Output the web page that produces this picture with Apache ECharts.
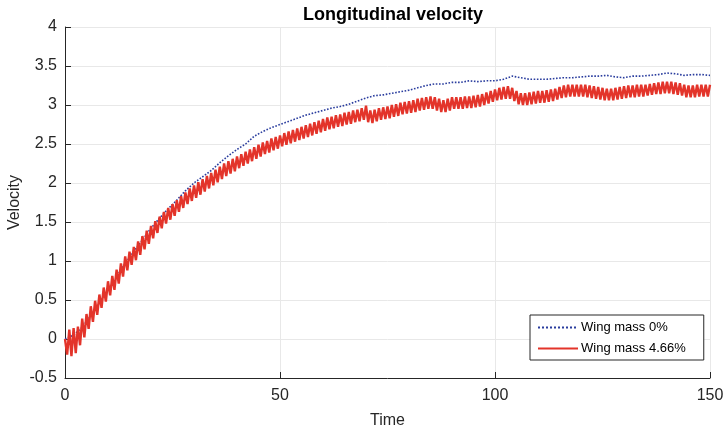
<!DOCTYPE html>
<html>
<head>
<meta charset="utf-8">
<script src="https://cdn.jsdelivr.net/npm/echarts@6/dist/echarts.min.js"></script>
<style>
    html, body { margin: 0; padding: 0; background: #fff; }
    #chart { width: 726px; height: 433px; }
</style>
</head>
<body>
<div id="chart"></div>
<script>
// Wing mass 4.66%: local maxima at t = 0, 1, 2, ... 150
const redPeak = [
    0.00, 0.12, 0.14, 0.16, 0.26, 0.32, 0.42, 0.49, 0.57, 0.66,
    0.74, 0.81, 0.89, 0.97, 1.06, 1.12, 1.18, 1.25, 1.32, 1.39,
    1.45, 1.51, 1.57, 1.63, 1.68, 1.73, 1.78, 1.83, 1.88, 1.93,
    1.97, 2.01, 2.05, 2.09, 2.13, 2.17, 2.21, 2.25, 2.28, 2.31,
    2.34, 2.37, 2.40, 2.43, 2.46, 2.49, 2.52, 2.54, 2.57, 2.59,
    2.61, 2.64, 2.66, 2.68, 2.70, 2.72, 2.74, 2.76, 2.78, 2.80,
    2.82, 2.84, 2.85, 2.87, 2.88, 2.90, 2.91, 2.93, 2.94, 2.96,
    2.99, 2.93, 2.94, 2.96, 2.97, 2.98, 3.00, 3.01, 3.03, 3.04,
    3.05, 3.06, 3.08, 3.09, 3.10, 3.11, 3.10, 3.08, 3.06, 3.08,
    3.10, 3.10, 3.10, 3.11, 3.11, 3.12, 3.13, 3.14, 3.16, 3.18,
    3.20, 3.22, 3.23, 3.24, 3.22, 3.18, 3.15, 3.15, 3.16, 3.17,
    3.18, 3.18, 3.19, 3.20, 3.21, 3.23, 3.25, 3.26, 3.26, 3.26,
    3.26, 3.26, 3.25, 3.24, 3.23, 3.22, 3.21, 3.21, 3.22, 3.23,
    3.24, 3.25, 3.25, 3.26, 3.26, 3.26, 3.27, 3.28, 3.29, 3.30,
    3.30, 3.30, 3.29, 3.28, 3.26, 3.25, 3.25, 3.26, 3.26, 3.26,
    3.26
];
// local minima at t = 0.5, 1.5, ... 149.5
const redTrough = [
    -0.20, -0.22, -0.18, -0.08, 0.02, 0.13, 0.22, 0.31, 0.40, 0.48,
    0.56, 0.63, 0.71, 0.80, 0.88, 0.95, 1.01, 1.08, 1.15, 1.22,
    1.29, 1.36, 1.42, 1.48, 1.53, 1.58, 1.63, 1.68, 1.73, 1.77,
    1.81, 1.85, 1.89, 1.93, 1.97, 2.01, 2.05, 2.09, 2.12, 2.15,
    2.19, 2.22, 2.25, 2.28, 2.31, 2.34, 2.37, 2.39, 2.42, 2.44,
    2.47, 2.49, 2.51, 2.53, 2.55, 2.57, 2.59, 2.61, 2.63, 2.65,
    2.67, 2.69, 2.70, 2.72, 2.73, 2.75, 2.76, 2.78, 2.79, 2.81,
    2.78, 2.77, 2.79, 2.81, 2.82, 2.83, 2.85, 2.86, 2.88, 2.89,
    2.90, 2.91, 2.93, 2.94, 2.95, 2.95, 2.93, 2.91, 2.91, 2.93,
    2.95, 2.95, 2.95, 2.96, 2.96, 2.97, 2.98, 3.00, 3.02, 3.04,
    3.06, 3.07, 3.08, 3.08, 3.05, 3.01, 3.00, 3.00, 3.01, 3.02,
    3.03, 3.03, 3.04, 3.05, 3.07, 3.09, 3.10, 3.11, 3.11, 3.11,
    3.11, 3.10, 3.09, 3.08, 3.07, 3.06, 3.06, 3.06, 3.07, 3.08,
    3.09, 3.10, 3.10, 3.11, 3.11, 3.12, 3.13, 3.14, 3.14, 3.15,
    3.15, 3.14, 3.13, 3.12, 3.10, 3.10, 3.10, 3.11, 3.11, 3.11
];
// Wing mass 0%: sampled every 2 time units, t = 0 ... 150
const blueVals = [
    0.00, 0.05, 0.15, 0.30, 0.46, 0.63, 0.80, 0.97, 1.12, 1.27,
    1.42, 1.55, 1.67, 1.78, 1.90, 2.00, 2.08, 2.16, 2.26, 2.35,
    2.43, 2.50, 2.60, 2.66, 2.71, 2.75, 2.79, 2.83, 2.87, 2.90,
    2.93, 2.96, 2.98, 3.01, 3.05, 3.09, 3.12, 3.13, 3.15, 3.17,
    3.19, 3.22, 3.25, 3.27, 3.27, 3.29, 3.29, 3.31, 3.30, 3.31,
    3.31, 3.33, 3.37, 3.35, 3.33, 3.33, 3.33, 3.34, 3.35, 3.35,
    3.36, 3.37, 3.37, 3.38, 3.36, 3.35, 3.37, 3.37, 3.38, 3.39,
    3.41, 3.40, 3.38, 3.39, 3.39, 3.38
];
const seriesNames = ['Wing mass 0%', 'Wing mass 4.66%'];
const blueStep = 2;

let redData = [];
for (let i = 0; i < redPeak.length; i++) {
    redData.push([i, redPeak[i]]);
    if (i < redTrough.length) {
        redData.push([i + 0.5, redTrough[i]]);
    }
}
let blueData = blueVals.map((v, i) => [i * blueStep, v]);

const font = 'Liberation Sans, Arial, Helvetica, sans-serif';
const textColor = '#262626';

let myChart = echarts.init(document.getElementById('chart'));
let option = {
    animation: false,
    backgroundColor: '#fff',
    title: {
        text: 'Longitudinal velocity',
        left: 388,
        textAlign: 'center',
        top: 1,
        textStyle: { fontFamily: font, fontSize: 18, fontWeight: 'bold', color: '#000' },
    },
    grid: { left: 65, right: 16, top: 27, bottom: 55, outerBoundsMode: 'none' },
    legend: {
        data: seriesNames,
        orient: 'vertical',
        left: 530,
        top: 315,
        align: 'left',
        padding: [6, 18, 5, 7],
        itemGap: 8,
        itemWidth: 40,
        itemHeight: 12,
        itemStyle: { opacity: 0 },
        backgroundColor: '#fff',
        borderColor: '#262626',
        borderWidth: 1,
        borderRadius: 0,
        textStyle: { fontFamily: font, fontSize: 13, color: '#000', padding: [0, 0, 0, -2] },
    },
    xAxis: {
        type: 'value',
        min: 0,
        max: 150,
        interval: 50,
        name: 'Time',
        nameLocation: 'middle',
        nameGap: 35,
        nameMoveOverlap: false,
        nameTextStyle: { fontFamily: font, fontSize: 16, color: textColor },
        axisLine: { onZero: false, lineStyle: { color: textColor, width: 1 } },
        axisTick: { inside: true, length: 6, lineStyle: { color: textColor } },
        axisLabel: { fontFamily: font, fontSize: 16, color: textColor, margin: 10 },
        splitLine: { show: true, lineStyle: { color: '#e8e8e8', width: 1 } },
    },
    yAxis: {
        type: 'value',
        min: -0.5,
        max: 4,
        interval: 0.5,
        name: 'Velocity',
        nameLocation: 'middle',
        nameGap: 42,
        nameMoveOverlap: false,
        nameTextStyle: { fontFamily: font, fontSize: 16, color: textColor },
        axisLine: { show: true, onZero: false, lineStyle: { color: textColor, width: 1 } },
        axisTick: { show: true, inside: true, length: 6, lineStyle: { color: textColor } },
        axisLabel: { fontFamily: font, fontSize: 16, color: textColor, margin: 8 },
        splitLine: { show: true, lineStyle: { color: '#e8e8e8', width: 1 } },
    },
    series: [
        {
            name: seriesNames[0],
            type: 'line',
            data: blueData,
            symbol: 'none',
            lineStyle: { color: '#2a3d9e', width: 1.6, type: 'dotted' },
            itemStyle: { color: '#2a3d9e' },
            z: 3,
        },
        {
            name: seriesNames[1],
            type: 'line',
            data: redData,
            symbol: 'none',
            lineStyle: { color: '#e3342a', width: 2.4 },
            itemStyle: { color: '#e3342a' },
            z: 4,
        },
    ],
};
myChart.setOption(option);
</script>
</body>
</html>
